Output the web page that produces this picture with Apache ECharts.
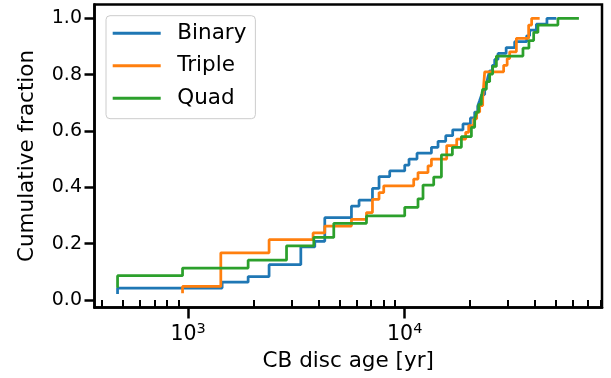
<!DOCTYPE html>
<html>
<head>
<meta charset="utf-8">
<script src="https://cdn.jsdelivr.net/npm/echarts@6/dist/echarts.min.js"></script>
<style>
html,body{margin:0;padding:0;background:#fff;}
#chart{width:611px;height:378px;}
</style>
</head>
<body>
<div id="chart"></div>
<script>
// ---- Data ----
const seriesNames = ['Binary', 'Triple', 'Quad'];

// Binary: step vertices (age [yr], cumulative fraction)
const binaryAge = [472, 472, 1435, 1892, 2364, 3313, 3843, 4274, 5675, 6153, 7096, 7610, 8525, 10000, 10467, 11396, 13282, 14248, 15463, 16653, 18578, 20106, 21040, 21725, 22190, 22665, 23402, 23904, 24238, 24677, 25396, 26024, 26963, 29398, 32185, 36560, 37740, 40530, 45360, 50130];
const binaryFrac = [0.021, 0.042, 0.063, 0.083, 0.125, 0.188, 0.208, 0.292, 0.333, 0.354, 0.396, 0.438, 0.458, 0.479, 0.5, 0.521, 0.542, 0.563, 0.583, 0.604, 0.625, 0.646, 0.667, 0.688, 0.708, 0.729, 0.75, 0.771, 0.792, 0.813, 0.833, 0.854, 0.875, 0.896, 0.917, 0.938, 0.958, 0.979, 1.0, 1.0];

// Triple
const tripleAge = [942, 942, 1415, 2364, 3774, 4274, 5675, 6658, 7096, 7610, 8000, 11002, 11516, 12810, 13282, 15625, 17378, 19120, 19740, 20820, 21490, 22190, 22909, 23153, 23402, 28630, 29720, 30520, 32775, 37340, 38550, 41980];
const tripleFrac = [0.024, 0.048, 0.167, 0.214, 0.238, 0.262, 0.286, 0.31, 0.357, 0.381, 0.405, 0.429, 0.452, 0.476, 0.5, 0.548, 0.571, 0.595, 0.619, 0.643, 0.667, 0.69, 0.714, 0.762, 0.81, 0.833, 0.857, 0.881, 0.929, 0.976, 1.0, 1.0];

// Quad
const quadAge = [472, 472, 942, 1892, 2846, 3803, 4703, 6658, 10000, 11516, 12146, 13610, 14773, 16600, 18270, 20320, 21040, 21490, 21955, 22590, 22909, 23823, 24677, 25475, 26500, 35155, 37460, 39390, 41220, 50980, 63730];
const quadFrac = [0.043, 0.086, 0.113, 0.141, 0.192, 0.222, 0.272, 0.298, 0.329, 0.359, 0.408, 0.436, 0.515, 0.542, 0.58, 0.613, 0.64, 0.667, 0.694, 0.721, 0.748, 0.775, 0.802, 0.829, 0.866, 0.894, 0.921, 0.95, 0.976, 1.0, 1.0];

// Axis ticks
const xMajorTicks = [1000, 10000];
const xMinorTicks = [400, 500, 600, 700, 800, 900, 2000, 3000, 4000, 5000, 6000, 7000, 8000, 9000, 20000, 30000, 40000, 50000, 60000, 70000, 80000];
const yTicks = [0, 0.2, 0.4, 0.6, 0.8, 1.0];
const xRange = [369.4, 81460];
const yRange = [-0.027, 1.049];

const colors = ['#1f77b4', '#ff7f0e', '#2ca02c'];
const FONT = 'DejaVu Sans';

const chart = echarts.init(document.getElementById('chart'), null, {renderer: 'canvas'});

function pairs(a, f) { return a.map((v, i) => [v, f[i]]); }
const seriesData = [pairs(binaryAge, binaryFrac), pairs(tripleAge, tripleFrac), pairs(quadAge, quadFrac)];

const option = {
  animation: false,
  backgroundColor: '#ffffff',
  grid: {
    left: 94.5, right: 9, top: 4.5, bottom: 70.5,
    show: true, borderColor: '#000', borderWidth: 2.5, backgroundColor: 'transparent'
  },
  legend: {
    data: seriesNames,
    orient: 'vertical',
    left: 106, top: 15.7,
    icon: 'rect',
    itemWidth: 48, itemHeight: 3,
    itemGap: 7.5,
    padding: [5, 9, 8, 6.7],
    backgroundColor: 'rgba(255,255,255,0.8)',
    borderColor: '#cccccc', borderWidth: 1, borderRadius: 4,
    textStyle: {fontFamily: FONT, fontSize: 21.5, color: '#000', lineHeight: 25, padding: [0, 0, 0, 11.6]}
  },
  xAxis: [
    {
      type: 'log', logBase: 10, min: xRange[0], max: xRange[1],
      name: 'CB disc age [yr]', nameLocation: 'middle', nameGap: 35,
      nameTextStyle: {fontFamily: FONT, fontSize: 21.5, color: '#000'},
      axisLine: {show: true, onZero: false, lineStyle: {color: '#000', width: 2.5}},
      axisTick: {show: true, length: 11, customValues: xMajorTicks, lineStyle: {color: '#000', width: 2.5}},
      axisLabel: {
        show: true, margin: 14, customValues: xMajorTicks, color: '#000',
        formatter: v => '{b|10}{s|' + Math.round(Math.log10(v)) + '}',
        rich: {
          b: {fontFamily: FONT, fontSize: 20.5, color: '#000'},
          s: {fontFamily: FONT, fontSize: 14.5, color: '#000', padding: [0, 0, 12, 0]}
        }
      },
      splitLine: {show: false}, minorTick: {show: false}
    },
    {
      type: 'log', logBase: 10, min: xRange[0], max: xRange[1], position: 'bottom',
      axisLine: {show: false},
      axisTick: {show: true, length: 7, customValues: xMinorTicks, lineStyle: {color: '#000', width: 2}},
      axisLabel: {show: false},
      splitLine: {show: false}
    }
  ],
  yAxis: {
    type: 'value', min: yRange[0], max: yRange[1],
    name: 'Cumulative fraction', nameLocation: 'middle', nameGap: 56,
    nameTextStyle: {fontFamily: FONT, fontSize: 21.5, color: '#000'},
    axisLine: {show: true, onZero: false, lineStyle: {color: '#000', width: 2.5}},
    axisTick: {show: true, length: 10, customValues: yTicks, lineStyle: {color: '#000', width: 2.5}},
    axisLabel: {show: true, margin: 12.5, customValues: yTicks, formatter: v => v.toFixed(1),
      fontFamily: FONT, fontSize: 19, color: '#000'},
    splitLine: {show: false}
  },
  series: seriesNames.map((name, i) => ({
    name: name, type: 'line', step: 'end', xAxisIndex: 0,
    data: seriesData[i], showSymbol: false, symbol: 'none',
    lineStyle: {color: colors[i], width: 2.75},
    itemStyle: {color: colors[i]},
    clip: true
  }))
};
chart.setOption(option);
</script>
</body>
</html>
